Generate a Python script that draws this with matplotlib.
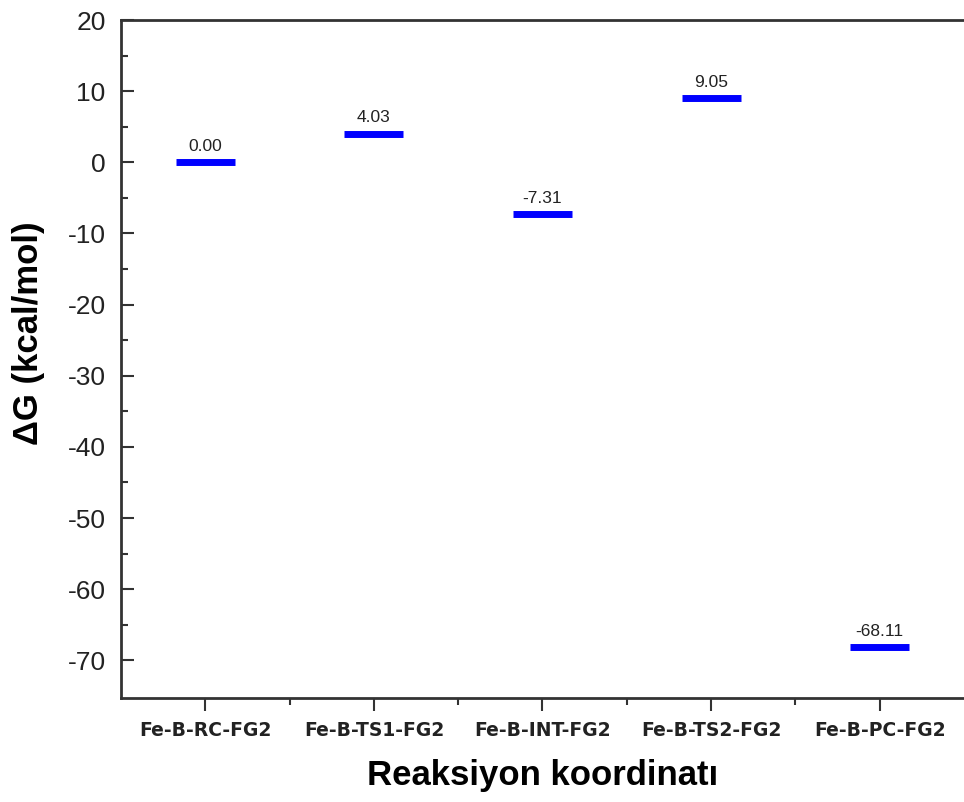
import matplotlib
matplotlib.use('Agg')
import matplotlib.pyplot as plt
from matplotlib.ticker import MultipleLocator, FixedLocator

states = ['Fe-B-RC-FG2', 'Fe-B-TS1-FG2', 'Fe-B-INT-FG2', 'Fe-B-TS2-FG2', 'Fe-B-PC-FG2']
dG = [0.00, 4.03, -7.31, 9.05, -68.11]

plt.rcParams['font.family'] = ['Liberation Sans', 'DejaVu Sans']
plt.rcParams['axes.unicode_minus'] = False

fig = plt.figure(figsize=(9.64, 8.02), dpi=100)
ax = fig.add_axes([0.1255, 0.1297, 0.8745, 0.8453])

x = list(range(1, len(states) + 1))
half = 0.175
for xi, g in zip(x, dG):
  ax.hlines(g, xi - half, xi + half, color='#0000ff', lw=5, capstyle='butt')
  ax.annotate('%.2f' % g, (xi, g), xytext=(0, 6), textcoords='offset points',
              ha='center', va='bottom', fontsize=12.5, color='#222222')

ax.set_xlim(0.5, 5.5)
ax.set_ylim(-75.3, 20)
ax.set_xticks(x)
ax.set_xticklabels(states, fontsize=13.5, fontweight='bold', family='DejaVu Sans', color='#222222')
ax.xaxis.set_minor_locator(FixedLocator([1.5, 2.5, 3.5, 4.5]))
ax.yaxis.set_major_locator(MultipleLocator(10))
ax.yaxis.set_minor_locator(FixedLocator(range(-65, 20, 10)))

ax.tick_params(axis='y', which='major', direction='in', length=9.5, width=1.5, labelsize=19, pad=11, colors='#333333', labelcolor='#222222')
ax.tick_params(axis='y', which='minor', direction='in', length=5, width=1.5, colors='#333333')
ax.tick_params(axis='x', which='major', direction='out', length=9.5, width=1.5, pad=7, colors='#333333', labelcolor='#222222')
ax.tick_params(axis='x', which='minor', direction='out', length=5, width=1.5, colors='#333333')

for s in ['left', 'bottom', 'top']:
  ax.spines[s].set_linewidth(2)
  ax.spines[s].set_color('#333333')
ax.spines['right'].set_visible(False)

ax.set_ylabel('ΔG (kcal/mol)', fontsize=25, fontweight='bold')
ax.yaxis.set_label_coords(-0.09, 0.538)
ax.set_xlabel('Reaksiyon koordinatı', fontsize=25, fontweight='bold', labelpad=14)

fig.savefig('out.png', dpi=100)
